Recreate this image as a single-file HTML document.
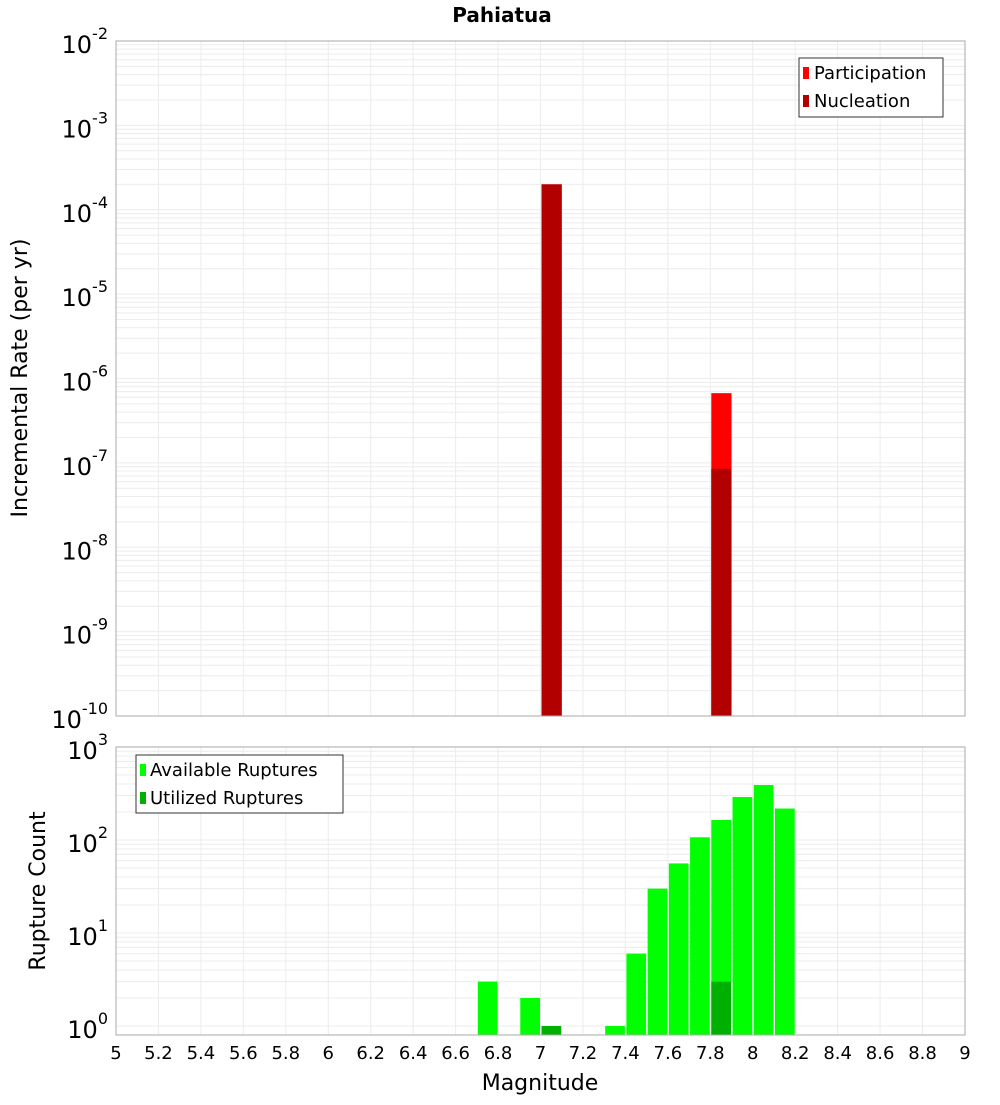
<!DOCTYPE html>
<html><head><meta charset="utf-8"><style>
body{margin:0;background:#fff;}
svg{font-family:"DejaVu Sans","Liberation Sans",sans-serif;}
</style></head><body>
<svg id="chart" width="1000" height="1100" xmlns="http://www.w3.org/2000/svg">
<text x="502" y="22" text-anchor="middle" font-size="20" font-weight="bold">Pahiatua</text>
<g id="topPlot"></g>
<g id="botPlot"></g>
<text transform="translate(27,378) rotate(-90)" text-anchor="middle" font-size="22">Incremental Rate (per yr)</text>
<text transform="translate(45,891) rotate(-90)" text-anchor="middle" font-size="22">Rupture Count</text>
<text x="540" y="1090" text-anchor="middle" font-size="22">Magnitude</text>
<g>
<rect x="799" y="58" width="144" height="59" fill="#fff" stroke="#333"/>
<rect x="803" y="67" width="6" height="12" fill="#ff0000"/>
<text x="814" y="79" font-size="18">Participation</text>
<rect x="803" y="95" width="6" height="12" fill="#b20000"/>
<text x="814" y="107" font-size="18">Nucleation</text>
</g>
<g>
<rect x="136" y="755" width="207" height="58" fill="#fff" stroke="#333"/>
<rect x="140" y="764" width="6" height="12" fill="#00ff00"/>
<text x="150" y="776" font-size="18">Available Ruptures</text>
<rect x="140" y="792" width="6" height="12" fill="#00b000"/>
<text x="150" y="804" font-size="18">Utilized Ruptures</text>
</g>
</svg>
<script>
const binStarts = [6.7, 6.9, 7.0, 7.3, 7.4, 7.5, 7.6, 7.7, 7.8, 7.9, 8.0, 8.1];
const availableCounts = [3, 2, 0, 1, 6, 30, 56, 107, 164, 290, 390, 218];
const utilizedCounts = [0, 0, 1, 0, 0, 0, 0, 0, 3, 0, 0, 0];
const rateBins = [7.0, 7.8];
const participationRates = [2.0e-4, 6.7e-7];
const nucleationRates = [2.0e-4, 8.5e-8];
const xTicks = [5,5.2,5.4,5.6,5.8,6,6.2,6.4,6.6,6.8,7,7.2,7.4,7.6,7.8,8,8.2,8.4,8.6,8.8,9];
const topDecades = [-10,-9,-8,-7,-6,-5,-4,-3,-2];
const botDecades = [0,1,2,3];

const NS="http://www.w3.org/2000/svg";
const X0=116,X1=965;
const xs=m=>X0+(m-5)*(X1-X0)/4;
const yTop=v=>41+84.375*(-2-Math.log10(v));
const yBot=v=>1026-93*Math.log10(v);
function mk(p,tag,a){const e=document.createElementNS(NS,tag);for(const k in a)e.setAttribute(k,a[k]);p.appendChild(e);return e;}
const topG=document.getElementById('topPlot'),botG=document.getElementById('botPlot');

function frame(g,y0,y1,yf,decs){
  for(const d of decs){for(let k=1;k<10;k++){const v=k*Math.pow(10,d);const y=yf(v);if(y<y0-0.5||y>y1+0.5)continue;
    const l=mk(g,'line',{x1:X0,x2:X1,y1:y,y2:y,stroke:'#ececec','stroke-width':1});
    
    }}
  for(const t of xTicks){const x=xs(t);
    const l=mk(g,'line',{x1:x,x2:x,y1:y0,y2:y1,stroke:'#ececec','stroke-width':1});
    
    }
  for(const d of decs){const y=yf(Math.pow(10,d));
    const t=mk(g,'text',{x:X0-8,y:y+12,'text-anchor':'end','font-size':24});
    
    
    t.innerHTML='10<tspan dy="-14" font-size="16">'+d+'</tspan>';}
}
frame(topG,41,716,yTop,topDecades);
frame(botG,747,1035,yBot,botDecades);

rateBins.forEach((b,i)=>{
  const x=xs(b)+1,w=xs(b+0.1)-xs(b)-1;
  const p=mk(topG,'rect',{x:x,y:yTop(participationRates[i]),width:w,height:716-yTop(participationRates[i]),fill:'#ff0000'});
  
  
  const n=mk(topG,'rect',{x:x,y:yTop(nucleationRates[i]),width:w,height:716-yTop(nucleationRates[i]),fill:'#b20000'});
  
  
});
binStarts.forEach((b,i)=>{
  const x=xs(b)+1,w=xs(b+0.1)-xs(b)-1.5;
  if(availableCounts[i]>0){const r=mk(botG,'rect',{x:x,y:yBot(availableCounts[i]),width:w,height:1035-yBot(availableCounts[i]),fill:'#00ff00'});
    
    }
  if(utilizedCounts[i]>0){const r=mk(botG,'rect',{x:x,y:yBot(utilizedCounts[i]),width:w,height:1035-yBot(utilizedCounts[i]),fill:'#00b000'});
    
    }
});
mk(topG,'rect',{x:X0,y:41,width:X1-X0,height:675,fill:'none',stroke:'#aaa'});
mk(botG,'rect',{x:X0,y:747,width:X1-X0,height:288,fill:'none',stroke:'#aaa'});
for(const t of xTicks){const e=mk(botG,'text',{x:xs(t),y:1059,'text-anchor':'middle','font-size':18});
  
  
  e.textContent=String(t);}
</script>
</body></html>
